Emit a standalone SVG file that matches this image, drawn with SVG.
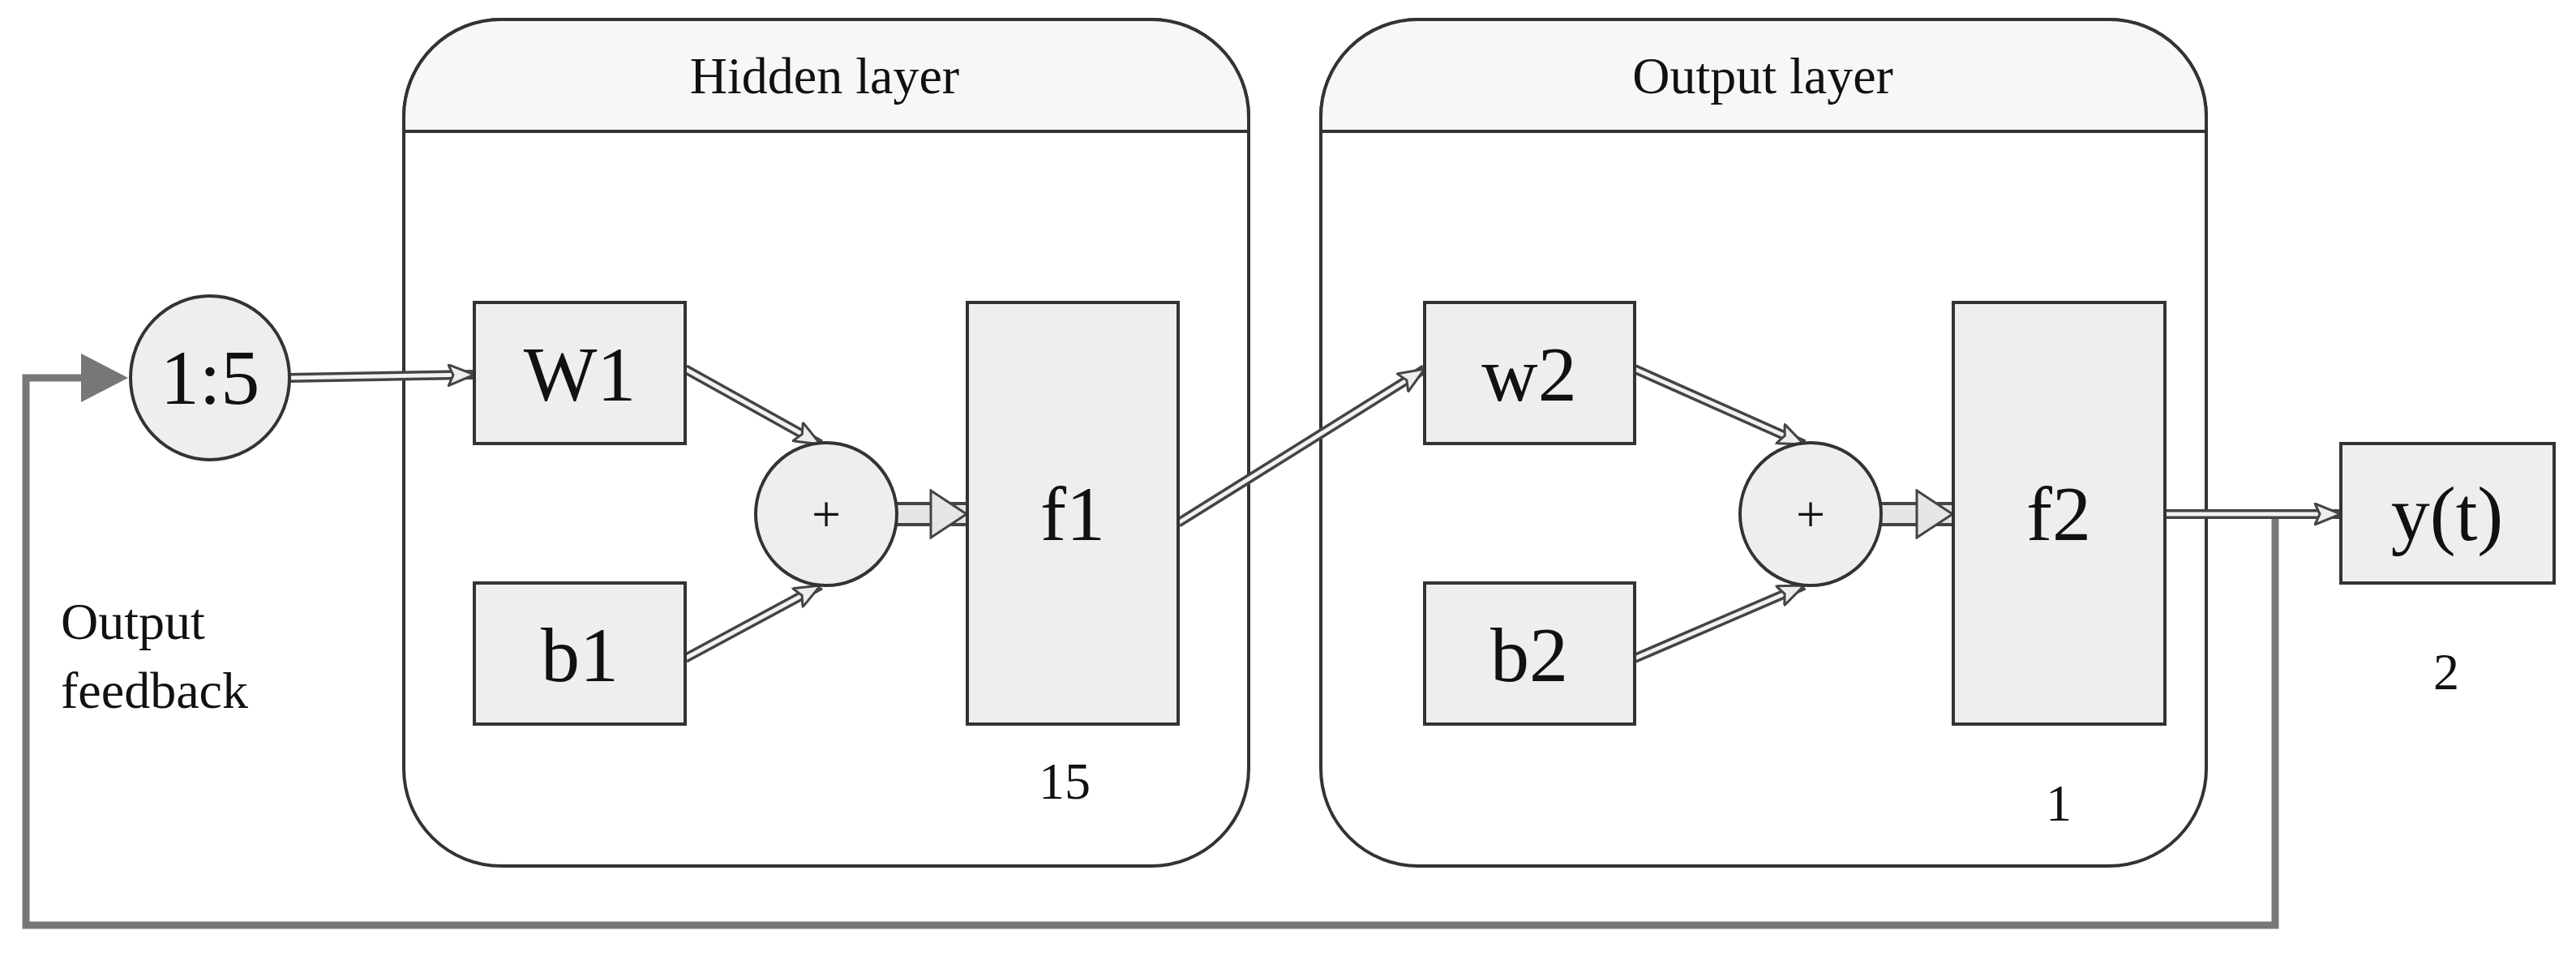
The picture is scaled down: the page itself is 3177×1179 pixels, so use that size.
<svg xmlns="http://www.w3.org/2000/svg" width="3177" height="1179" viewBox="0 0 3177 1179">
<style>
text{font-family:"Liberation Serif",serif;fill:#111;text-anchor:middle}
.cont{fill:#fff;stroke:#333;stroke-width:4}
.hdr{fill:#f7f7f7;stroke:#333;stroke-width:4}
.box{fill:#eee;stroke:#333;stroke-width:4}
.o{fill:none;stroke:#444;stroke-width:12}
.i{fill:none;stroke:#f2f2f2;stroke-width:5}
.h{fill:none;stroke:#000;stroke-opacity:0;stroke-width:1;marker-end:url(#ah)}
.fo{fill:none;stroke:#444;stroke-width:30}
.fi{fill:none;stroke:#e6e6e6;stroke-width:22}
.fh{fill:none;stroke:#000;stroke-opacity:0;stroke-width:1;marker-end:url(#bh)}
.lbl{font-size:64px}
.big{font-size:96px}
</style>
<defs>
<marker id="ah" viewBox="0 0 34 28" refX="33" refY="14" markerWidth="34" markerHeight="28" markerUnits="userSpaceOnUse" orient="auto">
<path d="M1,1 L33,14 L1,27 L7,14 Z" fill="#eee" stroke="#444" stroke-width="3"/>
</marker>
<marker id="bh" viewBox="0 0 48 62" refX="47" refY="31" markerWidth="48" markerHeight="62" markerUnits="userSpaceOnUse" orient="auto">
<path d="M2,2 L46,31 L2,60 Z" fill="#e6e6e6" stroke="#444" stroke-width="3"/>
</marker>
</defs>
<g id="hidden-layer">
<path class="cont" d="M618,24 H1420 A120,120 0 0 1 1540,144 V948 A120,120 0 0 1 1420,1068 H618 A120,120 0 0 1 498,948 V144 A120,120 0 0 1 618,24 Z"/>
<path class="hdr" d="M498,162 V144 A120,120 0 0 1 618,24 H1420 A120,120 0 0 1 1540,144 V162 Z"/>
<text class="lbl" x="1017" y="115">Hidden layer</text>
</g>
<g id="output-layer">
<path class="cont" d="M1749,24 H2601 A120,120 0 0 1 2721,144 V948 A120,120 0 0 1 2601,1068 H1749 A120,120 0 0 1 1629,948 V144 A120,120 0 0 1 1749,24 Z"/>
<path class="hdr" d="M1629,162 V144 A120,120 0 0 1 1749,24 H2601 A120,120 0 0 1 2721,144 V162 Z"/>
<text class="lbl" x="2174" y="115">Output layer</text>
</g>
<g id="connectors">
<path d="M2806,640 V1141 H32 V466 H110" fill="none" stroke="#777" stroke-width="9"/>
<polygon points="100,436 158,466 100,496" fill="#777"/>
<path class="o" d="M357,466 L585,462"/><path class="i" d="M357,466 L585,462"/><path class="h" d="M357,466 L585,462"/>
<path class="o" d="M845,455 L1012,548"/><path class="i" d="M845,455 L1012,548"/><path class="h" d="M845,455 L1012,548"/>
<path class="o" d="M845,812 L1012,722"/><path class="i" d="M845,812 L1012,722"/><path class="h" d="M845,812 L1012,722"/>
<path class="fo" d="M1106,634 L1193,634"/><path class="fi" d="M1106,634 L1193,634"/><path class="fh" d="M1106,634 L1193,634"/>
<path class="o" d="M1453,645 L1757,455"/><path class="i" d="M1453,645 L1757,455"/><path class="h" d="M1453,645 L1757,455"/>
<path class="o" d="M2016,455 L2225,548"/><path class="i" d="M2016,455 L2225,548"/><path class="h" d="M2016,455 L2225,548"/>
<path class="o" d="M2016,812 L2225,722"/><path class="i" d="M2016,812 L2225,722"/><path class="h" d="M2016,812 L2225,722"/>
<path class="fo" d="M2320,634 L2409,634"/><path class="fi" d="M2320,634 L2409,634"/><path class="fh" d="M2320,634 L2409,634"/>
<path class="o" d="M2670,634 L2887,634"/><path class="i" d="M2670,634 L2887,634"/><path class="h" d="M2670,634 L2887,634"/>
</g>
<g id="input"><ellipse class="box" cx="259" cy="466" rx="98" ry="101"/><text class="big" x="259" y="498">1:5</text></g>
<g id="W1"><rect class="box" x="585" y="373" width="260" height="174"/><text class="big" x="715" y="494">W1</text></g>
<g id="b1"><rect class="box" x="585" y="719" width="260" height="174"/><text class="big" x="715" y="840">b1</text></g>
<g id="sum1"><ellipse class="box" cx="1019" cy="634" rx="87" ry="88"/><text class="lbl" x="1019" y="656">+</text></g>
<g id="f1"><rect class="box" x="1193" y="373" width="260" height="520"/><text class="big" x="1323" y="666">f1</text><text class="lbl" x="1313" y="985">15</text></g>
<g id="w2"><rect class="box" x="1757" y="373" width="259" height="174"/><text class="big" x="1886" y="494">w2</text></g>
<g id="b2"><rect class="box" x="1757" y="719" width="259" height="174"/><text class="big" x="1886" y="840">b2</text></g>
<g id="sum2"><ellipse class="box" cx="2233" cy="634" rx="87" ry="88"/><text class="lbl" x="2233" y="656">+</text></g>
<g id="f2"><rect class="box" x="2409" y="373" width="261" height="520"/><text class="big" x="2539" y="666">f2</text><text class="lbl" x="2539" y="1012">1</text></g>
<g id="yt"><rect class="box" x="2887" y="547" width="263" height="172"/><text class="big" x="3018" y="666">y(t)</text><text class="lbl" x="3017" y="850">2</text></g>
<g id="feedback-label"><text class="lbl" x="75" y="788" style="text-anchor:start">Output</text><text class="lbl" x="75" y="873" style="text-anchor:start">feedback</text></g>
</svg>
